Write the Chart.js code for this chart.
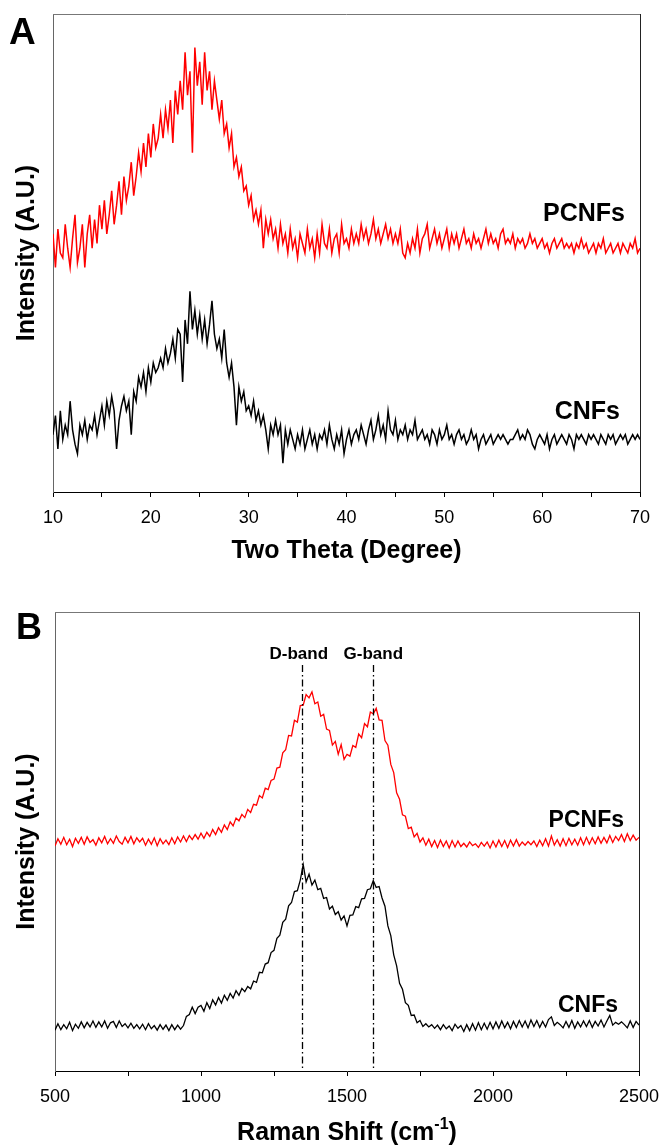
<!DOCTYPE html>
<html lang="en">
<head>
  <meta charset="UTF-8" />
  <title>XRD and Raman spectra of CNFs and PCNFs</title>
  <script src="https://cdn.jsdelivr.net/npm/chart.js"></script>
  <style>
    html, body {
      margin: 0;
      padding: 0;
      background: #fff;
      width: 662px;
      height: 1146px;
      overflow: hidden;
    }
    canvas {
      position: absolute;
      left: 0;
    }
    #xrd { top: 0; }
    #raman { top: 590px; }
  </style>
</head>
<body>

<canvas id="xrd" width="662" height="580"></canvas>
<canvas id="raman" width="662" height="556"></canvas>

<script>
  // ---- data (arbitrary intensity, 0-100 of the plot height) ----
  // XRD: two theta from 10 to 70 deg, every 0.25 deg
  const xrdStart = 10;
  const xrdStep = 0.25;
  const xrdPCNFs = [
    54, 47, 55, 50,  49, 56, 51, 47,  53, 58, 48, 51,  56, 47, 54, 58,
    51, 57, 52, 60,  55, 61, 54, 58,  63, 56, 60, 65,  58, 66, 61, 64,
    69, 62, 66, 71,  67, 73, 68, 75,  70, 77, 72, 74,  79, 74, 80, 76,
    82, 73, 84, 79,  86, 80, 92, 83,  88, 71, 93, 85,  90, 81, 92, 84,
    88, 80, 86, 82,  78, 82, 75, 77,  72, 75, 68, 70,  66, 68, 63, 64,
    60, 62, 57, 59,  56, 59, 51, 57,  54, 57, 53, 55,  51, 56, 52, 54,
    50, 55, 51, 53,  49, 54, 52, 50,  55, 51, 53, 49,  54, 50, 56, 52,
    51, 55, 50, 53,  54, 50, 56, 52,  53, 51, 55, 52,  54, 52, 56, 53,
    55, 52, 54, 57,  53, 55, 52, 54,  56, 53, 55, 52,  54, 52, 55, 50,
    49, 52, 50, 53,  51, 55, 50, 53,  54, 56, 51, 53,  55, 52, 54, 51,
    53, 55, 51, 54,  52, 54, 51, 53,  55, 52, 53, 51,  54, 52, 53, 51,
    53, 55, 52, 54,  52, 53, 51, 54,  55, 52, 53, 52,  54, 51, 53, 52,
    53, 51, 52, 54,  52, 53, 51, 52,  53, 51, 52, 50,  52, 53, 51, 52,
    53, 51, 52, 51,  52, 50, 52, 51,  53, 51, 52, 50,  51, 52, 50, 52,
    51, 53, 50, 51,  52, 50, 51, 52,  50, 52, 51, 50,  52, 51, 53, 50,
    51
  ];
  const xrdCNFs = [
    12, 16, 9, 17,   11, 14, 12, 19,  13, 10, 8, 14,   12, 15, 11, 14,
    13, 16, 12, 15,  18, 14, 19, 16,  20, 17, 9, 15,   18, 20, 17, 19,
    12, 21, 19, 24,  22, 25, 21, 26,  23, 27, 25, 26,  28, 26, 30, 27,
    29, 32, 28, 34,  33, 23, 36, 31,  42, 34, 38, 33,  37, 32, 36, 31,
    35, 40, 33, 30,  32, 28, 34, 27,  24, 27, 22, 14,  22, 19, 21, 17,
    18, 16, 19, 15,  17, 14, 16, 13,  9, 14, 12, 15,   12, 14, 6, 13,
    10, 13, 11, 9,   12, 10, 13, 9,   11, 13, 10, 12,  9, 12, 11, 13,
    10, 14, 11, 9,   12, 10, 13, 8,   11, 13, 10, 12,  13, 11, 14, 12,
    10, 13, 15, 11,  13, 16, 12, 14,  11, 17, 13, 12,  15, 11, 13, 12,
    14, 11, 13, 12,  15, 11, 12, 13,  11, 12, 10, 13,  12, 10, 13, 11,
    12, 14, 11, 12,  10, 12, 13, 11,  12, 10, 11, 13,  11, 12, 9, 11,
    12, 10, 11, 12,  10, 11, 12, 11,  12, 11, 10, 11,  11, 12, 13, 11,
    12, 11, 13, 12,  10, 9, 11, 12,   11, 10, 12, 9,   11, 12, 10, 11,
    12, 11, 10, 12,  11, 9, 12, 11,   12, 11, 10, 12,  11, 12, 11, 10,
    12, 11, 10, 12,  11, 12, 10, 11,  12, 11, 12, 10,  11, 12, 11, 12,
    11
  ];
  const xrdTicks = [10, 20, 30, 40, 50, 60, 70];

  // Raman: 500 to 2500 cm-1, every 10 cm-1
  const ramanStart = 500;
  const ramanStep = 10;
  const ramanPCNFs = [
    49.0, 50.6, 49.4, 50.9, 49.3, 50.5, 48.9, 50.7, 49.6, 50.9,
    49.4, 51.0, 49.8, 50.4, 49.2, 50.8, 49.7, 51.1, 49.5, 50.6,
    49.6, 51.2, 50.0, 49.4, 50.9, 49.7, 51.1, 49.5, 50.8, 49.9,
    50.7, 49.2, 50.5, 49.4, 50.8, 49.1, 50.6, 49.5, 50.3, 49.3,
    50.8, 49.5, 51.0, 49.9, 51.2, 50.0, 51.3, 50.4, 51.5, 50.5,
    51.8, 50.7, 52.0, 51.1, 52.6, 51.5, 53.0, 52.0, 53.6, 52.6,
    54.3, 53.4, 55.1, 54.5, 55.9, 55.2, 57.0, 56.3, 58.1, 57.9,
    60.0, 59.5, 61.6, 61.3, 63.3, 63.6, 66.0, 66.2, 69.3, 70.0,
    73.1, 73.0, 76.4, 76.0, 79.6, 79.7, 82.0, 81.3, 82.6, 80.0,
    80.4, 77.3, 77.7, 74.5, 74.2, 71.0, 71.8, 69.0, 71.1, 67.9,
    69.0, 68.6, 70.9, 70.5, 73.4, 72.6, 75.7, 75.0, 78.2, 77.8,
    79.0, 76.5, 76.4, 72.0, 71.0, 66.8, 65.0, 60.6, 59.2, 55.8,
    55.5, 52.8, 53.1, 51.0, 51.8, 49.9, 50.8, 49.2, 50.5, 48.9,
    50.2, 48.7, 50.3, 48.9, 50.1, 48.6, 50.2, 48.8, 50.1, 48.9,
    49.6, 48.8, 49.9, 49.1, 49.5, 48.7, 49.8, 49.0, 49.9, 48.6,
    50.1, 48.8, 50.3, 48.9, 50.2, 48.7, 50.3, 49.0, 50.4, 49.0,
    49.9, 49.2, 50.0, 49.3, 50.1, 48.9, 50.3, 49.1, 50.6, 49.0,
    51.2, 49.2, 50.4, 49.0, 50.6, 49.1, 50.7, 49.3, 50.5, 49.2,
    50.8, 49.3, 50.9, 49.4, 50.8, 49.5, 51.0, 49.6, 50.9, 49.7,
    51.3, 49.8, 51.1, 50.2, 51.5, 50.0, 51.7, 50.2, 51.4, 50.3,
    50.9
  ];
  const ramanCNFs = [
    8.9, 10.3, 9.0, 10.1, 9.2, 10.6, 8.8, 10.2, 9.3, 10.7,
    9.4, 10.6, 9.6, 10.9, 9.5, 10.7, 9.6, 10.9, 9.3, 10.5,
    10.8, 9.5, 10.9, 9.7, 10.3, 9.4, 10.4, 9.3, 10.1, 9.2,
    10.2, 9.0, 10.3, 9.2, 9.9, 8.9, 10.1, 9.1, 10.0, 8.8,
    10.1, 9.0, 10.0, 9.1, 9.9, 11.9, 12.3, 13.9, 12.5, 13.9,
    14.3, 13.0, 14.9, 13.6, 15.5, 14.4, 16.0, 14.8, 16.5, 15.4,
    16.9, 15.9, 17.5, 16.5, 18.0, 17.3, 18.4, 17.9, 19.6, 19.3,
    21.5, 21.4, 23.3, 23.6, 25.8, 26.3, 28.9, 29.6, 32.4, 33.1,
    36.0, 36.7, 39.1, 39.3, 41.6, 45.0, 41.2, 42.9, 40.5, 41.6,
    39.5, 39.8, 37.6, 37.8, 35.3, 35.9, 34.1, 34.7, 32.9, 33.8,
    31.6, 33.9, 34.0, 35.8, 35.6, 37.5, 37.6, 39.5, 39.7, 41.5,
    40.0, 40.2, 37.7, 35.9, 31.6, 29.5, 25.3, 22.9, 19.1, 17.8,
    14.9, 14.3, 12.1, 12.2, 10.5, 11.0, 9.7, 10.3, 9.6, 10.1,
    9.3, 10.0, 9.0, 10.1, 9.2, 9.8, 8.8, 10.2, 9.3, 9.9,
    8.6, 10.1, 8.8, 10.3, 8.9, 10.5, 9.0, 10.4, 9.1, 10.6,
    9.2, 10.7, 9.3, 10.9, 9.4, 10.6, 9.2, 10.8, 9.5, 11.0,
    9.6, 10.9, 9.4, 11.1, 9.7, 11.0, 9.5, 10.8, 9.6, 11.2,
    11.8, 9.9, 10.6, 10.1, 9.4, 10.8, 9.5, 11.0, 9.3, 10.7,
    9.6, 10.9, 9.7, 11.0, 9.5, 10.8, 9.8, 11.1, 9.6, 10.9,
    12.1, 10.0, 10.6, 10.2, 10.7, 10.1, 9.4, 10.9, 9.5, 10.8,
    10.0
  ];
  const ramanTicks = [500, 1000, 1500, 2000, 2500];
  const bandPositions = [1345, 1590];
  const bandLabels = ['D-band', 'G-band'];

  const FONT = '"Liberation Sans", Arial, sans-serif';

  function toPoints(start, step, values) {
    return values.map((v, i) => ({ x: start + i * step, y: v }));
  }

  // frame, titles and labels drawn on top of the chart
  function decorPlugin(cfg) {
    return {
      id: 'decor',
      afterDatasetsDraw(chart) {
        if (!cfg.bands) return;
        const ctx = chart.ctx;
        const a = chart.chartArea;
        const xs = chart.scales.x;
        ctx.save();
        ctx.strokeStyle = '#000';
        ctx.lineWidth = 1.3;
        ctx.setLineDash([7, 3, 1.5, 3]);
        bandPositions.forEach(b => {
          const px = Math.round(xs.getPixelForValue(b)) + 0.5;
          ctx.beginPath();
          ctx.moveTo(px, cfg.bands.top);
          ctx.lineTo(px, a.bottom);
          ctx.stroke();
        });
        ctx.setLineDash([]);
        ctx.fillStyle = '#000';
        ctx.font = 'bold 17px ' + FONT;
        ctx.textAlign = 'center';
        ctx.textBaseline = 'alphabetic';
        bandLabels.forEach((t, i) => {
          ctx.fillText(t, xs.getPixelForValue(bandPositions[i]) + cfg.bands.dx[i], cfg.bands.labelY);
        });
        ctx.restore();
      },
      afterDraw(chart) {
        const ctx = chart.ctx;
        const a = chart.chartArea;
        ctx.save();
        // top and right frame lines
        ctx.lineWidth = 1;
        ctx.strokeStyle = '#777';
        ctx.beginPath();
        ctx.moveTo(a.left, a.top + 0.5);
        ctx.lineTo(a.right, a.top + 0.5);
        ctx.stroke();
        ctx.strokeStyle = '#222';
        ctx.beginPath();
        ctx.moveTo(a.right + 0.5, a.top);
        ctx.lineTo(a.right + 0.5, a.bottom);
        ctx.stroke();

        ctx.fillStyle = '#000';
        // panel letter
        ctx.font = 'bold ' + cfg.letter.size + 'px ' + FONT;
        ctx.textAlign = 'left';
        ctx.textBaseline = 'alphabetic';
        ctx.fillText(cfg.letter.text, cfg.letter.x, cfg.letter.y);

        // y title
        ctx.save();
        ctx.translate(27, (a.top + a.bottom) / 2);
        ctx.rotate(-Math.PI / 2);
        ctx.font = 'bold 25px ' + FONT;
        ctx.textAlign = 'center';
        ctx.textBaseline = 'middle';
        ctx.fillText('Intensity (A.U.)', 0, 0);
        ctx.restore();

        // x title
        const cx = (a.left + a.right) / 2;
        ctx.font = 'bold 25px ' + FONT;
        ctx.textBaseline = 'alphabetic';
        if (cfg.xSup) {
          const main = cfg.xTitle, sup = cfg.xSup, tail = ')';
          ctx.font = 'bold 25px ' + FONT;
          const w1 = ctx.measureText(main).width;
          const w3 = ctx.measureText(tail).width;
          ctx.font = 'bold 16px ' + FONT;
          const w2 = ctx.measureText(sup).width;
          let x0 = cx - (w1 + w2 + w3) / 2;
          ctx.textAlign = 'left';
          ctx.font = 'bold 25px ' + FONT;
          ctx.fillText(main, x0, cfg.xTitleY);
          ctx.font = 'bold 16px ' + FONT;
          ctx.fillText(sup, x0 + w1, cfg.xTitleY - 11);
          ctx.font = 'bold 25px ' + FONT;
          ctx.fillText(tail, x0 + w1 + w2, cfg.xTitleY);
        } else {
          ctx.textAlign = 'center';
          ctx.fillText(cfg.xTitle, cx, cfg.xTitleY);
        }

        // curve labels
        ctx.textAlign = 'right';
        cfg.labels.forEach(l => {
          ctx.font = 'bold ' + l.size + 'px ' + FONT;
          ctx.fillText(l.text, l.x, l.y);
        });
        ctx.restore();
      }
    };
  }

  function makeChart(id, opt) {
    return new Chart(document.getElementById(id), {
      type: 'line',
      data: {
        datasets: opt.series.map(s => ({
          data: s.points,
          borderColor: s.color,
          borderWidth: opt.lineWidth,
          pointRadius: 0,
          tension: 0,
          fill: false
        }))
      },
      options: {
        responsive: false,
        animation: false,
        events: [],
        layout: { padding: opt.padding },
        plugins: { legend: { display: false }, tooltip: { enabled: false } },
        scales: {
          x: {
            type: 'linear',
            min: opt.xMin,
            max: opt.xMax,
            afterFit: s => {
              s.height = opt.xHeight;
              s.paddingLeft = 0;
              s.paddingRight = 0;
            },
            grid: {
              drawOnChartArea: false,
              drawTicks: true,
              tickLength: 5,
              color: '#000',
              tickColor: '#000'
            },
            border: { display: true, color: '#000', width: 1 },
            ticks: {
              stepSize: opt.minorStep,
              autoSkip: false,
              maxRotation: 0,
              padding: 10,
              color: '#000',
              font: { family: FONT, size: 18 },
              callback: v => opt.tickLabels.includes(v) ? String(v) : ''
            }
          },
          y: {
            min: 0,
            max: 100,
            afterFit: s => { s.width = opt.yWidth; },
            grid: { display: false },
            border: { display: true, color: '#666', width: 1 },
            ticks: { display: false }
          }
        }
      },
      plugins: [decorPlugin(opt.decor)]
    });
  }

  makeChart('xrd', {
    series: [
      { points: toPoints(xrdStart, xrdStep, xrdPCNFs), color: '#ff0000' },
      { points: toPoints(xrdStart, xrdStep, xrdCNFs), color: '#000000' }
    ],
    lineWidth: 1.5,
    xMin: 10, xMax: 70, minorStep: 5, tickLabels: xrdTicks,
    padding: { left: 0, top: 14, right: 22, bottom: 0 },
    xHeight: 88, yWidth: 53,
    decor: {
      letter: { text: 'A', size: 37, x: 9, y: 44 },
      xTitle: 'Two Theta (Degree)', xTitleY: 558,
      labels: [
        { text: 'PCNFs', size: 25, x: 625, y: 221 },
        { text: 'CNFs', size: 25, x: 620, y: 419 }
      ]
    }
  });

  makeChart('raman', {
    series: [
      { points: toPoints(ramanStart, ramanStep, ramanPCNFs), color: '#ff0000' },
      { points: toPoints(ramanStart, ramanStep, ramanCNFs), color: '#000000' }
    ],
    lineWidth: 1.3,
    xMin: 500, xMax: 2500, minorStep: 250, tickLabels: ramanTicks,
    padding: { left: 0, top: 22, right: 23, bottom: 0 },
    xHeight: 75, yWidth: 55,
    decor: {
      letter: { text: 'B', size: 36, x: 16, y: 49 },
      xTitle: 'Raman Shift (cm', xSup: '-1', xTitleY: 550,
      bands: { top: 75, labelY: 69, dx: [-3, 0] },
      labels: [
        { text: 'PCNFs', size: 23, x: 624, y: 237 },
        { text: 'CNFs', size: 23, x: 618, y: 422 }
      ]
    }
  });
</script>

</body>
</html>
